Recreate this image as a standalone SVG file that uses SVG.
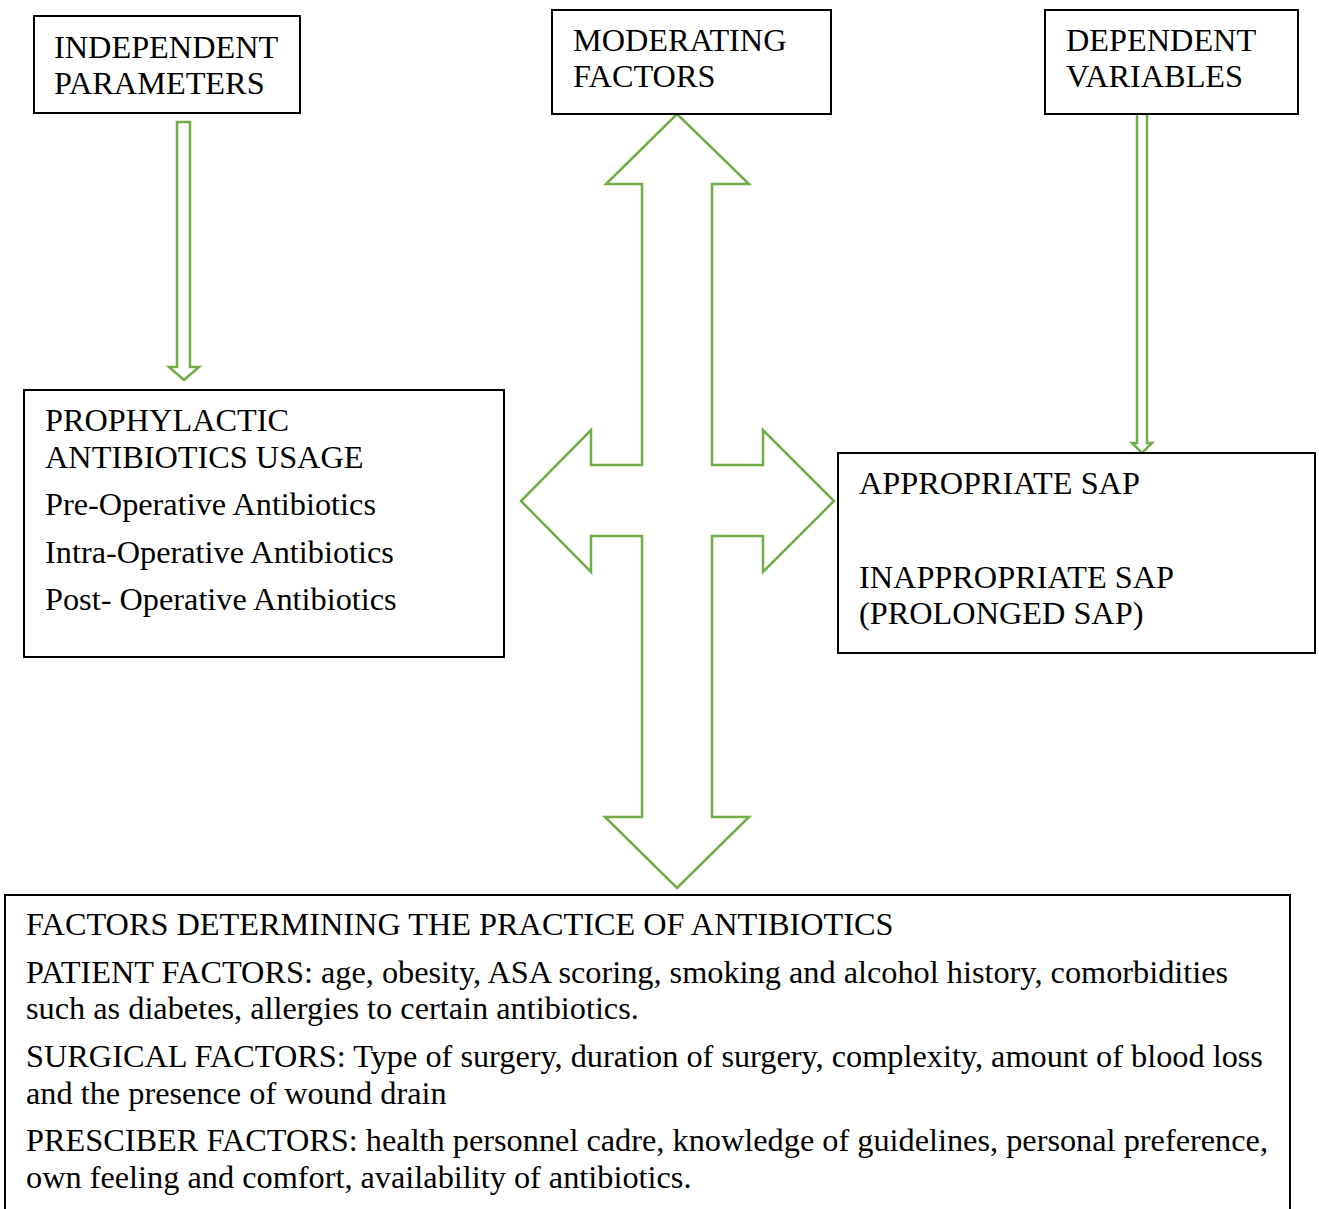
<svg xmlns="http://www.w3.org/2000/svg" width="1319" height="1209" viewBox="0 0 1319 1209">
<style>
.box{fill:#fff;stroke:#000;stroke-width:2}
.arr{fill:none;stroke:#70AD47;stroke-width:2.5;stroke-linejoin:miter}
text{font-family:"Liberation Serif","Times New Roman",serif;font-size:32.3px;fill:#000}
</style>
<rect width="1319" height="1209" fill="#fff"/>
<g id="connectors">
<path class="arr" d="M177,122 H190 V367 H199 L184,380 L169,367 H177 Z"/>
<path class="arr" d="M677,114 L749,184 H712 V465 H763 V430 L834,501 L763,572 V536 H712 V817 H749 L677,888 L605,817 H642 V536 H591 V572 L521,501 L591,430 V465 H642 V184 H606 Z"/>
<path class="arr" d="M1137,113 H1147 V443 H1152 L1142,453 L1132,443 H1137 Z"/>
</g>
<g id="independent">
<rect class="box" x="34" y="16" width="266" height="97"/>
<text x="54" y="58">INDEPENDENT</text>
<text x="54" y="94">PARAMETERS</text>
</g>
<g id="moderating">
<rect class="box" x="552" y="10" width="279" height="104"/>
<text x="573" y="51">MODERATING</text>
<text x="573" y="87">FACTORS</text>
</g>
<g id="dependent">
<rect class="box" x="1045" y="10" width="253" height="104"/>
<text x="1066" y="51">DEPENDENT</text>
<text x="1066" y="87">VARIABLES</text>
</g>
<g id="prophylactic">
<rect class="box" x="24" y="390" width="480" height="267"/>
<text x="45" y="431">PROPHYLACTIC</text>
<text x="45" y="468">ANTIBIOTICS USAGE</text>
<text x="45" y="515">Pre-Operative Antibiotics</text>
<text x="45" y="563">Intra-Operative Antibiotics</text>
<text x="45" y="610">Post- Operative Antibiotics</text>
</g>
<g id="sap">
<rect class="box" x="838" y="453" width="477" height="200"/>
<text x="859" y="494">APPROPRIATE SAP</text>
<text x="859" y="588">INAPPROPRIATE SAP</text>
<text x="859" y="624">(PROLONGED SAP)</text>
</g>
<g id="factors">
<rect class="box" x="5" y="895" width="1285" height="330"/>
<text x="26" y="935">FACTORS DETERMINING THE PRACTICE OF ANTIBIOTICS</text>
<text x="26" y="983">PATIENT FACTORS: age, obesity, ASA scoring, smoking and alcohol history, comorbidities</text>
<text x="26" y="1019">such as diabetes, allergies to certain antibiotics.</text>
<text x="26" y="1067">SURGICAL FACTORS: Type of surgery, duration of surgery, complexity, amount of blood loss</text>
<text x="26" y="1104">and the presence of wound drain</text>
<text x="26" y="1151">PRESCIBER FACTORS: health personnel cadre, knowledge of guidelines, personal preference,</text>
<text x="26" y="1188">own feeling and comfort, availability of antibiotics.</text>
</g>
</svg>
